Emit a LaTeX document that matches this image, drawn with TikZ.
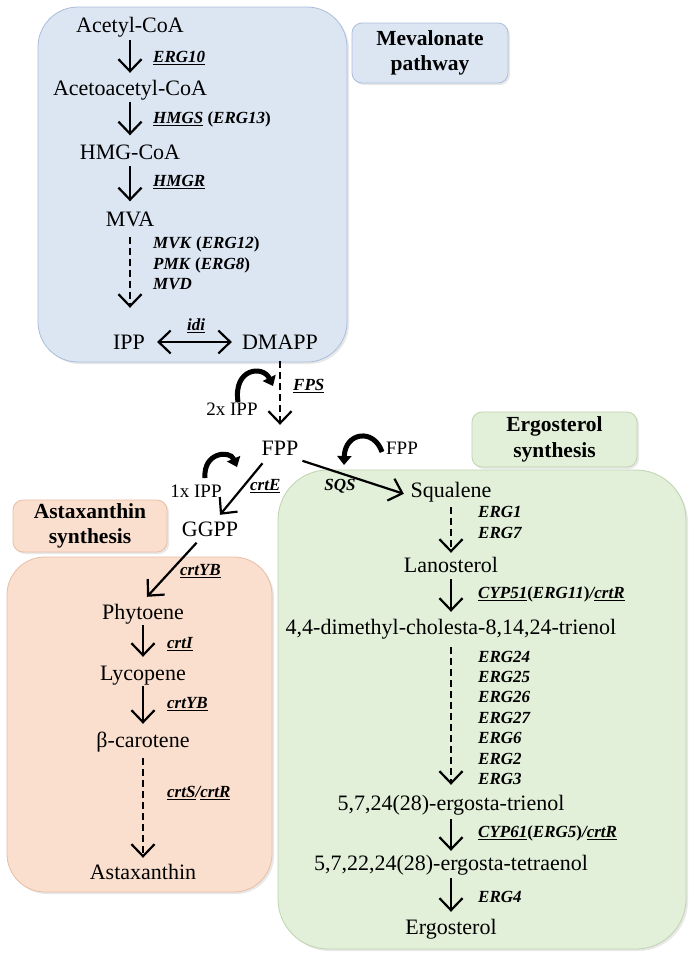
\documentclass[tikz,border=0pt]{standalone}
\usepackage{fontspec}
\setmainfont{Liberation Serif}
\usetikzlibrary{arrows.meta,shadows}
\definecolor{bfill}{RGB}{220,230,243}
\definecolor{bline}{RGB}{170,190,220}
\definecolor{ofill}{RGB}{250,223,206}
\definecolor{oline}{RGB}{232,190,165}
\definecolor{gfill}{RGB}{226,239,217}
\definecolor{gline}{RGB}{190,212,175}
\newcommand\ulx[1]{\underline{#1}}
\tikzset{
  cmp/.style={inner sep=0, text height=15pt, text depth=5pt, font=\fontsize{22}{26}\selectfont},
  cof/.style={inner sep=0, text height=13pt, text depth=4pt, font=\fontsize{19}{23}\selectfont},
  lab/.style={anchor=west, inner sep=0, text height=12pt, text depth=3pt, font=\fontsize{17}{20}\selectfont\bfseries\itshape},
  bigbox/.style={line width=0.8pt, rounded corners=#1, drop shadow={opacity=0.18, shadow xshift=2pt, shadow yshift=-2pt}},
  titlebox/.style={line width=0.8pt, rounded corners=10pt, align=center, inner sep=0,
     font=\fontsize{21.5}{25.5}\selectfont\bfseries, drop shadow={opacity=0.18, shadow xshift=2pt, shadow yshift=-2pt}},
  arr/.style={line width=2.2pt, -{Straight Barb[length=12pt,width=23pt]}},
  darr/.style={arr, dash pattern=on 7pt off 4pt},
  dblarr/.style={line width=2.2pt, {Straight Barb[length=12pt,width=23pt]}-{Straight Barb[length=12pt,width=23pt]}},
  curv/.style={line width=5pt, -{Triangle[length=9pt,width=14pt]}},
}
\begin{document}
\begin{tikzpicture}[x=1pt,y=-1pt]
\useasboundingbox[fill=white] (0,0) rectangle (697,962);
% boxes
\draw[bigbox=40pt, fill=bfill, draw=bline] (38,7) rectangle (347,362);
\draw[bigbox=38pt, fill=ofill, draw=oline] (7,557) rectangle (272,892);
\draw[bigbox=50pt, fill=gfill, draw=gline] (278,470) rectangle (686,949);
\node[titlebox, fill=bfill, draw=bline, minimum width=156pt, minimum height=60pt] (mevt) at (430,53) {Mevalonate\\pathway};
\node[titlebox, fill=ofill, draw=oline, minimum width=154pt, minimum height=52pt] (astt) at (90,526) {Astaxanthin\\synthesis};
\node[titlebox, fill=gfill, draw=gline, minimum width=165pt, minimum height=55pt] (ergt) at (554.5,439.5) {Ergosterol\\synthesis};
% compounds
\node[cmp] (acetyl) at (130,27) {Acetyl-CoA};
\node[cmp] (acetoacetyl) at (130,90) {Acetoacetyl-CoA};
\node[cmp] (hmgcoa) at (130,154.5) {HMG-CoA};
\node[cmp] (mva) at (130,221.5) {MVA};
\node[cmp] (ipp) at (129,344) {IPP};
\node[cmp] (dmapp) at (280,344) {DMAPP};
\node[cmp] (fpp) at (280,450) {FPP};
\node[cmp] (ggpp) at (210,531) {GGPP};
\node[cmp] (squalene) at (451,492) {Squalene};
\node[cof] (fppco) at (402,450) {FPP};
\node[cof] (ippco2) at (232,411) {2x IPP};
\node[cof] (ippco1) at (196,493) {1x IPP};
\node[cmp] (phytoene) at (143,614) {Phytoene};
\node[cmp] (lycopene) at (143,675) {Lycopene};
\node[cmp] (bcar) at (143,742) {β-carotene};
\node[cmp] (astax) at (143,874) {Astaxanthin};
\node[cmp] (lanosterol) at (451,567) {Lanosterol};
\node[cmp] (dimethyl) at (451,629) {4,4-dimethyl-cholesta-8,14,24-trienol};
\node[cmp] (trienol) at (451,805) {5,7,24(28)-ergosta-trienol};
\node[cmp] (tetraenol) at (451,865) {5,7,22,24(28)-ergosta-tetraenol};
\node[cmp] (ergosterol) at (451,929) {Ergosterol};
% labels
\node[lab] (l1) at (153,58) {\ulx{ERG10}};
\node[lab] (l2) at (153,119) {\ulx{HMGS} \textup{(}ERG13\textup{)}};
\node[lab] (l3) at (153,182) {\ulx{HMGR}};
\node[lab] (l4) at (153,244) {MVK \textup{(}ERG12\textup{)}};
\node[lab] (l5) at (153,265) {PMK \textup{(}ERG8\textup{)}};
\node[lab] (l6) at (153,285) {MVD};
\node[lab, anchor=center] (lidi) at (196,326) {\ulx{idi}};
\node[lab] (lfps) at (293,386) {\ulx{FPS}};
\node[lab] (lcrte) at (250,486) {\ulx{crtE}};
\node[lab, anchor=center] (lsqs) at (340,486) {SQS};
\node[lab] (lyb1) at (180,571) {\ulx{crtYB}};
\node[lab] (lcrti) at (167,644) {\ulx{crtI}};
\node[lab] (lyb2) at (167,704) {\ulx{crtYB}};
\node[lab] (lcrts) at (167,793) {\ulx{crtS}/\ulx{crtR}};
\node[lab] (le1) at (478,513) {ERG1};
\node[lab] (le7) at (478,534) {ERG7};
\node[lab] (lcyp51) at (478,594) {\ulx{CYP51}\textup{(}ERG11\textup{)}/\ulx{crtR}};
\node[lab] (le24) at (478,658) {ERG24};
\node[lab] (le25) at (478,678) {ERG25};
\node[lab] (le26) at (478,698) {ERG26};
\node[lab] (le27) at (478,719) {ERG27};
\node[lab] (le6) at (478,739) {ERG6};
\node[lab] (le2) at (478,760) {ERG2};
\node[lab] (le3) at (478,780) {ERG3};
\node[lab] (lcyp61) at (478,833) {\ulx{CYP61}\textup{(}ERG5\textup{)}/\ulx{crtR}};
\node[lab] (le4) at (478,898) {ERG4};
% mevalonate arrows
\draw[arr, shorten <=3pt, shorten >=7pt] (acetyl.south) -- (acetyl.south |- acetoacetyl.north);
\draw[arr, shorten <=1.5pt, shorten >=9pt] (acetoacetyl.south) -- (acetoacetyl.south |- hmgcoa.north);
\draw[arr, shorten <=1.5pt, shorten >=10pt] (hmgcoa.south) -- (hmgcoa.south |- mva.north);
\draw[darr, shorten <=5pt, shorten >=26pt] (mva.south) -- (mva.south |- ipp.north);
\draw[dblarr, shorten <=12pt, shorten >=10pt] ([yshift=2pt]ipp.east) -- ([yshift=2pt]dmapp.west);
\draw[darr, shorten <=7pt, shorten >=15pt] (dmapp.south) -- (dmapp.south |- fpp.north);
% branch arrows
\draw[arr, shorten <=4pt] ([xshift=-15pt]fpp.south) -- ([xshift=10pt,yshift=6pt]ggpp.north);
\draw[arr, shorten <=2pt, shorten >=7pt] ([xshift=2pt]fpp.south east) -- ([yshift=-4pt]squalene.west);
\draw[arr, shorten <=2pt] ([xshift=-12pt]ggpp.south) -- ([xshift=4pt,yshift=7pt]phytoene.north);
% cofactor curls
\coordinate (c1s) at (238,402); \coordinate (c1e) at (273,386);
\draw[curv] (c1s) .. controls (233,368) and (263,365) .. (c1e);
\coordinate (c2s) at (382,452); \coordinate (c2e) at (344,465);
\draw[curv] (c2s) .. controls (374,428) and (345,432) .. (c2e);
\coordinate (c3s) at (205,478); \coordinate (c3e) at (237,467);
\draw[curv] (c3s) .. controls (203,452) and (230,450) .. (c3e);
% astaxanthin arrows
\draw[arr, shorten <=1pt, shorten >=8pt] (phytoene.south) -- (phytoene.south |- lycopene.north);
\draw[arr, shorten <=1pt, shorten >=8pt] (lycopene.south) -- (lycopene.south |- bcar.north);
\draw[darr, shorten <=6pt, shorten >=6pt] (bcar.south) -- (bcar.south |- astax.north);
% ergosterol arrows
\draw[darr, shorten <=5pt, shorten >=4pt] (squalene.south) -- (squalene.south |- lanosterol.north);
\draw[arr, shorten <=2pt, shorten >=7pt] (lanosterol.south) -- (lanosterol.south |- dimethyl.north);
\draw[darr, shorten <=8pt, shorten >=10pt] (dimethyl.south) -- (dimethyl.south |- trienol.north);
\draw[arr, shorten <=4pt, shorten >=4pt] (trienol.south) -- (trienol.south |- tetraenol.north);
\draw[arr, shorten <=3pt, shorten >=7pt] (tetraenol.south) -- (tetraenol.south |- ergosterol.north);
\end{tikzpicture}
\end{document}
